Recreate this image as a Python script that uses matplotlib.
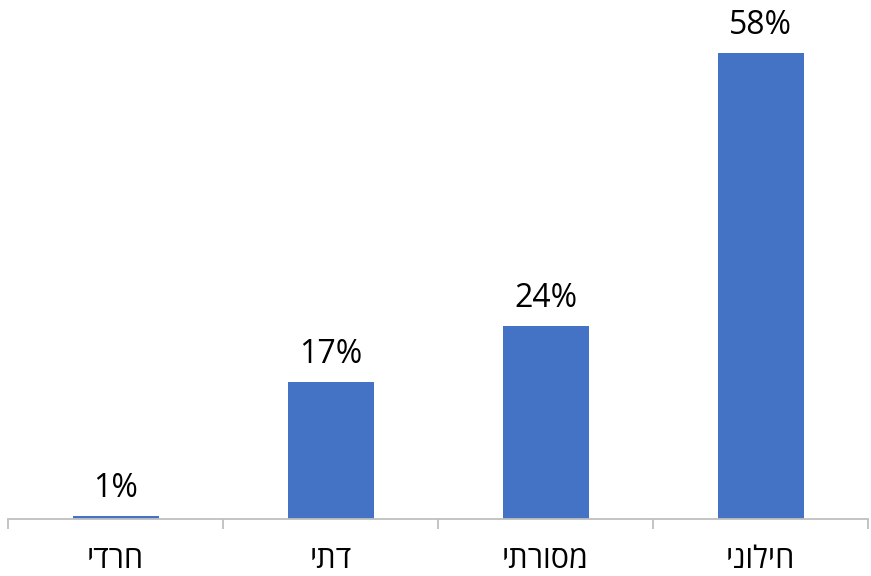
import matplotlib
matplotlib.use("Agg")
import matplotlib.pyplot as plt

plt.rcParams['font.family'] = ['Open Sans', 'DejaVu Sans']

categories = ["חרדי", "דתי", "מסורתי", "חילוני"]
values = [0.4, 17, 24, 58]
value_labels = ["1%", "17%", "24%", "58%"]

fig = plt.figure(figsize=(8.71, 5.76), dpi=100)
ax = fig.add_axes([8/871, 1 - 519/576, 860/871, 519/576])

x = list(range(len(categories)))
bars = ax.bar(x, values, width=0.4, color="#4472C4", zorder=2)
ax.set_xlim(-0.5, len(categories) - 0.5)
ax.set_ylim(0, 519 / 8.03)

for xi, v, lab in zip(x, values, value_labels):
    ax.annotate(lab, (xi, v), xytext=(0, 8), textcoords="offset points",
                ha="center", va="bottom", fontsize=23, color="#000000")

for s in ["top", "right", "left"]:
    ax.spines[s].set_visible(False)
ax.spines["bottom"].set_color("#BFBFBF")
ax.spines["bottom"].set_linewidth(1.3)
ax.yaxis.set_visible(False)

ax.set_xticks([i - 0.5 for i in range(len(categories) + 1)])
ax.set_xticklabels([])
ax.tick_params(axis="x", which="major", length=7, width=1.3, color="#BFBFBF", direction="out")
ax.set_xticks(x, minor=True)
ax.set_xticklabels([c[::-1] for c in categories], minor=True, fontsize=22)
ax.tick_params(axis="x", which="minor", length=0, pad=19)

fig.savefig("out.png", dpi=100)
